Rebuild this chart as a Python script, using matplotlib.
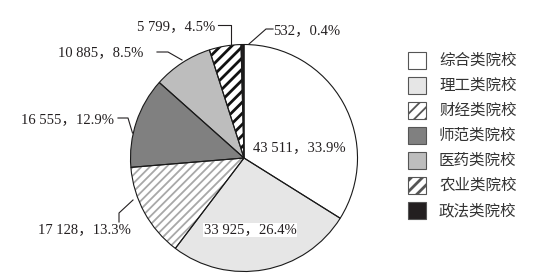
import matplotlib
matplotlib.use("Agg")
import matplotlib.pyplot as plt
from matplotlib.patches import Rectangle

categories = ["综合类院校", "理工类院校", "财经类院校", "师范类院校", "医药类院校", "农业类院校", "政法类院校"]
values = [43511, 33925, 17128, 16555, 10885, 5799, 532]
value_labels = ["43 511", "33 925", "17 128", "16 555", "10 885", "5 799", "532"]
percents = ["33.9%", "26.4%", "13.3%", "12.9%", "8.5%", "4.5%", "0.4%"]

fills = ["#ffffff", "#e6e6e6", "#ffffff", "#808080", "#bdbdbd", "#ffffff", "#231f20"]
hatches = [None, None, "////", None, None, "///", None]
hatch_colors = [None, None, "#a8a8a8", None, None, "#111111", None]
hatch_lws = [None, None, 1.3, None, None, 2.0, None]

W, H = 542, 279
fig = plt.figure(figsize=(W / 100, H / 100), dpi=100)
ax = fig.add_axes([0, 0, 1, 1])

def Y(y):
    return H - y

C = (244, Y(158))
R = 113.5

wedges, _ = ax.pie(values, colors=fills, startangle=90, counterclock=False,
                   center=C, radius=R, frame=True,
                   wedgeprops=dict(edgecolor="none", linewidth=0))
for w, h, hc, hl in zip(wedges, hatches, hatch_colors, hatch_lws):
    if h:
        w.set_hatch(h)
        w.set_edgecolor(hc)
        w.set_linewidth(0)
        if hasattr(w, "set_hatchcolor"):
            w.set_hatchcolor(hc)
        if hasattr(w, "set_hatch_linewidth"):
            w.set_hatch_linewidth(hl)

ax.pie(values, startangle=90, counterclock=False, center=C, radius=R, frame=True,
       wedgeprops=dict(fill=False, edgecolor="#1a1a1a", linewidth=0.8))

ax.set_xlim(0, W)
ax.set_ylim(0, H)
ax.set_aspect("auto")
ax.axis("off")

num_font = ["Liberation Serif", "Noto Sans CJK SC"]
fs = 10.5
tc = "#231f20"

def lab(i):
    return f"{value_labels[i]}，{percents[i]}"

# inside labels
ax.text(299, Y(148), lab(0), ha="center", va="center", fontsize=fs, family=num_font, color=tc)
ax.text(250, Y(230), lab(1), ha="center", va="center", fontsize=fs, family=num_font, color=tc,
        bbox=dict(facecolor="white", edgecolor="none", pad=0.5))

# outside labels with leaders
ax.text(131, Y(230), lab(2), ha="right", va="center", fontsize=fs, family=num_font, color=tc)
ax.plot([119, 119, 133], [Y(222), Y(213), Y(200)], color=tc, lw=0.8)

ax.text(114, Y(120), lab(3), ha="right", va="center", fontsize=fs, family=num_font, color=tc)
ax.plot([118, 128, 132.5], [Y(118), Y(118), Y(133)], color=tc, lw=0.8)

ax.text(143, Y(53), lab(4), ha="right", va="center", fontsize=fs, family=num_font, color=tc)
ax.plot([157, 168, 182], [Y(52), Y(52), Y(60)], color=tc, lw=0.8)

ax.text(215, Y(27), lab(5), ha="right", va="center", fontsize=fs, family=num_font, color=tc)
ax.plot([218, 231, 231], [Y(25), Y(25), Y(44)], color=tc, lw=0.8)

ax.text(273, Y(31), lab(6), ha="left", va="center", fontsize=fs, family=num_font, color=tc)
ax.plot([273, 266, 249], [Y(29), Y(29), Y(44)], color=tc, lw=0.8)

# legend
for i, cat in enumerate(categories):
    cy = 60.5 + 25 * i
    rect = Rectangle((408, Y(cy + 8.5)), 18, 17, facecolor=fills[i],
                     edgecolor="#555555", linewidth=0.8)
    if hatches[i]:
        rect.set_hatch(hatches[i][:3] if i == 2 else hatches[i])
        if hasattr(rect, "set_hatchcolor"):
            rect.set_hatchcolor(hatch_colors[i])
        if hasattr(rect, "set_hatch_linewidth"):
            rect.set_hatch_linewidth(hatch_lws[i])
    ax.add_patch(rect)
    ax.text(439, Y(cy), cat, ha="left", va="center", fontsize=11.2,
            family=["Noto Sans CJK SC", "DejaVu Sans"], color="#333333")

fig.savefig("out.png", dpi=100)
